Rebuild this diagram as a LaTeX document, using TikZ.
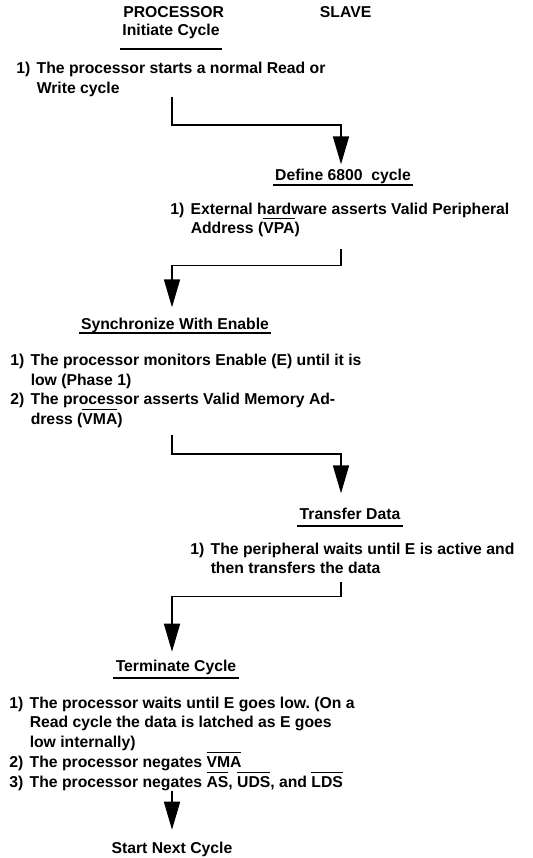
\documentclass[tikz,border=0pt]{standalone}
\usepackage{fontspec}
\setmainfont{Liberation Sans}
\usetikzlibrary{positioning,arrows.meta,calc}
\frenchspacing

% numbered step with hanging indent, and a bar over signal names
\newcommand{\itm}[1]{\makebox[1.3em][l]{#1}}
\newcommand{\cont}{\hspace*{1.3em}}
\newcommand{\ovl}[1]{\setbox0\hbox{#1}\rlap{\rule[0.93em]{\wd0}{0.075em}}\box0}

\begin{document}
\begin{tikzpicture}[
  >={Triangle[length=7mm,width=4mm]},
  font=\fontsize{11.2}{14.1}\selectfont\bfseries,
  colhead/.style={anchor=base, inner sep=0pt},
  head/.style={anchor=base, inner sep=0pt},
  steps/.style={anchor=north west, inner sep=0pt, align=left},
  flow/.style={->, line width=1.2pt},
  uline/.style={line width=1.1pt}
]
\useasboundingbox (0,0) rectangle (13.3,-21.45);

% columns
\node[colhead] (proc) at (4.34,-0.45) {PROCESSOR};
\node[colhead] (slave) at (8.64,-0.45) {SLAVE};
\coordinate (pcol) at (4.3,0);
\coordinate (scol) at (8.525,0);

\node[head] (init) at (4.275,-0.9) {Initiate Cycle};
\node[steps] (s1) at (0.4,-1.54)
{\itm{1)}The processor starts a normal Read or\\
\cont Write cycle};

\node[head] (def) at (8.575,-4.5) {Define 6800~\ cycle};
\node[steps] (s2) at (4.25,-5.06)
{\itm{1)}External hardware asserts Valid Peripheral\\
\cont Address (\ovl{VPA})};

\node[head] (sync) at (4.375,-8.225) {Synchronize With Enable};
\node[steps] (s3) at (0.25,-8.84)
{\itm{1)}The processor monitors Enable (E) until it is\\
\cont low (Phase 1)\\
\itm{2)}The processor asserts Valid Memory Ad-\\
\cont dress (\ovl{VMA})};

\node[head] (xfer) at (8.75,-12.975) {Transfer Data};
\node[steps] (s4) at (4.75,-13.56)
{\itm{1)}The peripheral waits until E is active and\\
\cont then transfers the data};

\node[head] (term) at (4.4,-16.775) {Terminate Cycle};
\node[steps] (s5) at (0.225,-17.41)
{\itm{1)}The processor waits until E goes low. (On a\\
\cont Read cycle the data is latched as E goes\\
\cont low internally)\\
\itm{2)}The processor negates \ovl{VMA}\\
\itm{3)}The processor negates \ovl{AS}, \ovl{UDS}, and \ovl{LDS}};

\node[head] (next) at (4.3,-21.325) {Start Next Cycle};

% underlined step titles
\foreach \n/\d in {init/0.325, def/0.125, sync/0.1, xfer/0.175, term/0.175}
  \draw[uline] ($(\n.base west)+(-0.05,-\d)$) -- ($(\n.base east)+(0.05,-\d)$);

% hand-over between processor and slave
\draw[flow, shorten >=1mm] (s1.south -| pcol) -- ++(0,-0.7) -| (def.north -| scol);
\draw[flow, shorten >=2.5mm] ([yshift=-3mm]s2.south -| scol) -- ++(0,-0.4) -| (sync.north -| pcol);
\draw[flow, shorten >=3.5mm] ([yshift=-1.75mm]s3.south -| pcol) -- ++(0,-0.475) -| (xfer.north -| scol);
\draw[flow, shorten >=1.9mm] ([yshift=-2mm]s4.south -| scol) -- ++(0,-0.35) -| (term.north -| pcol);
\draw[flow, shorten >=2.9mm] (s5.south -| pcol) -- (next.north -| pcol);

\end{tikzpicture}
\end{document}
